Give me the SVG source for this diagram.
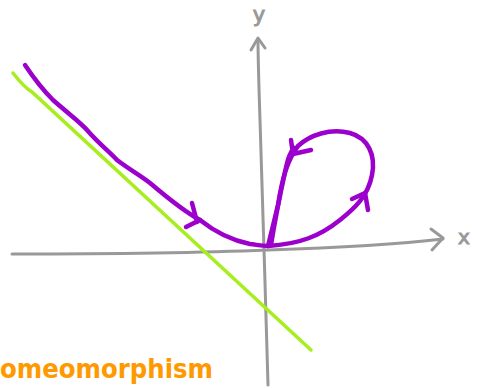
<svg xmlns="http://www.w3.org/2000/svg" width="481" height="388" viewBox="0 0 481 388">
<style>
.ax{fill:none;stroke:#999;stroke-width:3;stroke-linecap:round;stroke-linejoin:round}
.pu{fill:none;stroke:#9b00cc;stroke-width:4.5;stroke-linecap:round;stroke-linejoin:round}
.gr{fill:none;stroke:#a6ee1c;stroke-width:3.5;stroke-linecap:round}
.lbl{font-family:"DejaVu Sans",sans-serif;fill:#999;stroke:#999;stroke-width:1}
</style>
<rect width="481" height="388" fill="#fff"/>
<g id="axes">
<path class="ax" d="M12,254 C120,254 220,252 268,250 C330,248 400,244 443,239"/>
<path class="ax" d="M431,229 L443,238 L432,250"/>
<path class="ax" d="M268,385 C266,300 262,200 260,120 C259,90 258,60 258,39"/>
<path class="ax" d="M251,50 L258,38 L265,48"/>
<text class="lbl" x="464" y="244" font-size="20" text-anchor="middle">x</text>
<text class="lbl" x="259" y="22" font-size="21" text-anchor="middle">y</text>
</g>
<g id="line">
<path class="gr" d="M13,73 C20,82 25,88 32,92 C90,145 200,248 311,350"/>
</g>
<g id="curve">
<path class="pu" d="M25,65 C35,80 45,92 53,100 C70,115 80,122 87,130 C100,145 110,152 117,160 C130,170 140,175 150,183 C170,200 185,212 200,220 C215,232 230,240 250,244 C258,245 263,246 268,246"/>
<path class="pu" d="M192,203 L197,222 M186,227 L200,220"/>
<path class="pu" d="M268,246 C300,244 320,236 340,220 C355,208 368,196 372,175 C376,155 368,138 350,133 C330,128 310,135 298,146 C287,160 282,180 278,205 C273,225 270,238 268,246"/>
<path class="pu" stroke-width="4" d="M271,245 C275,220 280,195 285,172 C288,158 290,152 294,148"/>
<path class="pu" d="M291,140 L293,154 L311,150"/>
<path class="pu" d="M352,199 L365,193 L368,210"/>
</g>
<text x="0" y="378" font-family="DejaVu Sans,sans-serif" font-weight="bold" font-size="27" fill="#ff9900" textLength="213" lengthAdjust="spacingAndGlyphs">omeomorphism</text>
</svg>
